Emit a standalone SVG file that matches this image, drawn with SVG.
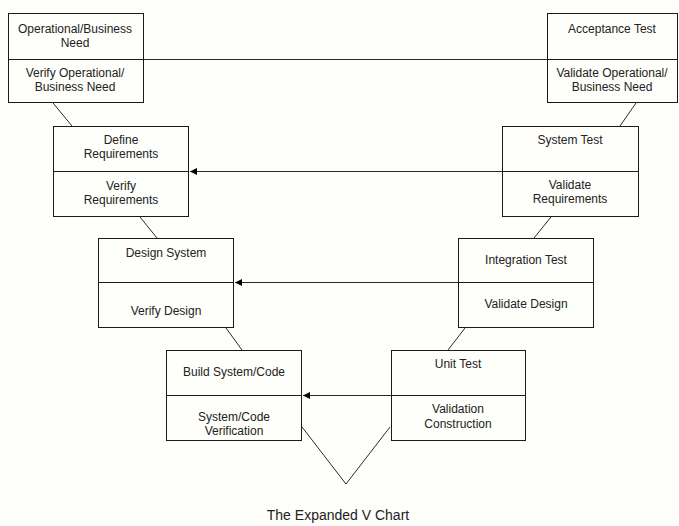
<svg xmlns="http://www.w3.org/2000/svg" width="679" height="526" viewBox="0 0 679 526">
<defs>
<style>
.box{fill:none;stroke:#1a1a1a;stroke-width:1}
.div{stroke:#1a1a1a;stroke-width:1}
.ln{stroke:#2a2a2a;stroke-width:1;fill:none}
text{font-family:"Liberation Sans",Arial,sans-serif;font-size:12px;fill:#222;text-anchor:middle}
.title{font-size:14px}
</style>
<marker id="ah" markerWidth="7" markerHeight="7" refX="7" refY="3.5" orient="auto" markerUnits="userSpaceOnUse">
<path d="M7,3.5 L0,0 L0,7 Z" fill="#000"/>
</marker>
</defs>
<rect width="679" height="526" fill="#fefefa"/>
<g id="connectors">
<line class="ln" x1="143.5" y1="59.5" x2="547.5" y2="59.5"/>
<line class="ln" x1="502" y1="171.5" x2="190" y2="171.5" marker-end="url(#ah)"/>
<line class="ln" x1="458" y1="282.5" x2="235" y2="282.5" marker-end="url(#ah)"/>
<line class="ln" x1="391" y1="395.5" x2="303" y2="395.5" marker-end="url(#ah)"/>
<line class="ln" x1="53" y1="103" x2="72" y2="126"/>
<line class="ln" x1="636" y1="103" x2="620" y2="126"/>
<line class="ln" x1="140" y1="217" x2="157" y2="238"/>
<line class="ln" x1="551" y1="217" x2="534" y2="238"/>
<line class="ln" x1="226" y1="328" x2="242" y2="350"/>
<line class="ln" x1="465" y1="328" x2="448" y2="350"/>
<polyline class="ln" points="302,427 346,484 390,427"/>
</g>
<g id="n1">
<rect class="box" x="8.5" y="13.5" width="135" height="89"/>
<line class="div" x1="8.5" y1="59.5" x2="143.5" y2="59.5"/>
<text x="75" y="33">Operational/Business</text>
<text x="75" y="47">Need</text>
<text x="75" y="77">Verify Operational/</text>
<text x="75" y="91">Business Need</text>
</g>
<g id="n2">
<rect class="box" x="547.5" y="13.5" width="130" height="89"/>
<line class="div" x1="547.5" y1="59.5" x2="677.5" y2="59.5"/>
<text x="612" y="33">Acceptance Test</text>
<text x="612" y="77">Validate Operational/</text>
<text x="612" y="91">Business Need</text>
</g>
<g id="n3">
<rect class="box" x="53.5" y="126.5" width="135" height="90"/>
<line class="div" x1="53.5" y1="171.5" x2="188.5" y2="171.5"/>
<text x="121" y="144">Define</text>
<text x="121" y="158">Requirements</text>
<text x="121" y="190">Verify</text>
<text x="121" y="204">Requirements</text>
</g>
<g id="n4">
<rect class="box" x="502.5" y="126.5" width="136" height="90"/>
<line class="div" x1="502.5" y1="171.5" x2="638.5" y2="171.5"/>
<text x="570" y="144">System Test</text>
<text x="570" y="189">Validate</text>
<text x="570" y="203">Requirements</text>
</g>
<g id="n5">
<rect class="box" x="98.5" y="238.5" width="135" height="89"/>
<line class="div" x1="98.5" y1="282.5" x2="233.5" y2="282.5"/>
<text x="166" y="257">Design System</text>
<text x="166" y="315">Verify Design</text>
</g>
<g id="n6">
<rect class="box" x="458.5" y="238.5" width="135" height="89"/>
<line class="div" x1="458.5" y1="282.5" x2="593.5" y2="282.5"/>
<text x="526" y="264">Integration Test</text>
<text x="526" y="308">Validate Design</text>
</g>
<g id="n7">
<rect class="box" x="166.5" y="350.5" width="135" height="90"/>
<line class="div" x1="166.5" y1="395.5" x2="301.5" y2="395.5"/>
<text x="234" y="376">Build System/Code</text>
<text x="234" y="421">System/Code</text>
<text x="234" y="435">Verification</text>
</g>
<g id="n8">
<rect class="box" x="391.5" y="350.5" width="134" height="90"/>
<line class="div" x1="391.5" y1="395.5" x2="525.5" y2="395.5"/>
<text x="458" y="368">Unit Test</text>
<text x="458" y="413">Validation</text>
<text x="458" y="428">Construction</text>
</g>
<text class="title" x="338" y="520">The Expanded V Chart</text>
</svg>
